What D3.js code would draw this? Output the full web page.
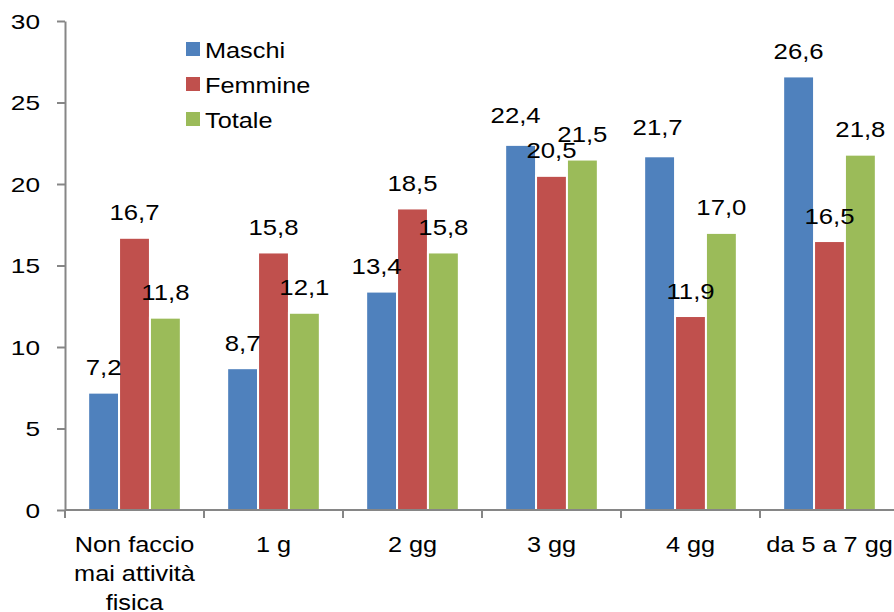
<!DOCTYPE html>
<html>
<head>
<meta charset="utf-8">
<script src="https://cdn.jsdelivr.net/npm/d3@7"></script>
<style>
  html, body { margin: 0; padding: 0; background: #fff; }
  svg { display: block; }
  text { font-family: "Liberation Sans", Arial, sans-serif; fill: #000; }
</style>
</head>
<body>
<svg id="chart" width="894" height="612"></svg>
<script>
// Categories (days of physical activity per week)
const categories = [
  ["Non faccio", "mai attività", "fisica"],
  ["1 g"],
  ["2 gg"],
  ["3 gg"],
  ["4 gg"],
  ["da 5 a 7 gg"]
];
const categoryKeys = categories.map(c => c.join(" "));

// Series
const seriesNames = ["Maschi", "Femmine", "Totale"];
const maschi  = [7.2, 8.7, 13.4, 22.4, 21.7, 26.6];
const femmine = [16.7, 15.8, 18.5, 20.5, 11.9, 16.5];
const totale  = [11.8, 12.1, 15.8, 21.5, 17.0, 21.8];
const seriesValues = [maschi, femmine, totale];
const seriesColors = ["#4F81BD", "#C0504D", "#9BBB59"];

// Y axis ticks
const yTicks = [0, 5, 10, 15, 20, 25, 30];

// Small hand nudges for a few value labels (series index, category index, dx, dy)
const labelNudges = [
  [0, 2, -5, 0],
  [0, 3, -5, -4],
  [0, 4, -2, -3.5]
];

const svg = d3.select("#chart");
const plotLeft = 65, plotTop = 21, plotBottom = 510, step = 139;
const sx = 1.15; // horizontal text stretch

const x0 = d3.scaleBand()
  .domain(categoryKeys)
  .range([plotLeft, plotLeft + step * categoryKeys.length])
  .paddingInner(0).paddingOuter(0);

const x1 = d3.scaleBand()
  .domain(seriesNames)
  .range([0, x0.bandwidth()])
  .paddingInner(0).paddingOuter(0.75);

const y = d3.scaleLinear().domain([0, 30]).range([plotBottom, plotTop]);

const itFormat = d3.formatLocale({ decimal: ",", thousands: ".", grouping: [3], currency: ["€", ""] }).format(".1f");

// Bars
const rows = [];
seriesNames.forEach((s, si) => {
  categoryKeys.forEach((c, ci) => {
    rows.push({ s, si, c, ci, v: seriesValues[si][ci] });
  });
});

svg.append("g").selectAll("rect")
  .data(rows)
  .join("rect")
  .attr("x", d => x0(d.c) + x1(d.s))
  .attr("y", d => y(d.v))
  .attr("width", x1.bandwidth())
  .attr("height", d => y(0) - y(d.v))
  .attr("fill", d => seriesColors[d.si])
  .attr("stroke", "#fff")
  .attr("stroke-width", 2);

// Axes
const axisColor = "#868686";
const yAxis = svg.append("g")
  .attr("transform", `translate(${plotLeft},0)`)
  .call(d3.axisLeft(y).tickValues(yTicks).tickSize(8).tickSizeOuter(0));
yAxis.select(".domain").attr("stroke", axisColor).attr("stroke-width", 2);
yAxis.selectAll(".tick line").attr("stroke", axisColor).attr("stroke-width", 2);
yAxis.selectAll(".tick text")
  .attr("x", null)
  .attr("dy", "0.35em")
  .attr("transform", `translate(-25,0) scale(1.25,1)`)
  .attr("text-anchor", "end")
  .style("font-size", "21px")
  .style("font-family", "'Liberation Sans', Arial, sans-serif")
  .attr("fill", "#000");

// X axis line and boundary ticks
const xEnd = x0.range()[1];
svg.append("line")
  .attr("x1", plotLeft).attr("x2", xEnd)
  .attr("y1", y(0)).attr("y2", y(0))
  .attr("stroke", axisColor).attr("stroke-width", 2);

const boundaries = categoryKeys.map(c => x0(c)).concat([xEnd]);
svg.append("g").selectAll("line")
  .data(boundaries)
  .join("line")
  .attr("x1", d => d).attr("x2", d => d)
  .attr("y1", y(0)).attr("y2", y(0) + 8)
  .attr("stroke", axisColor).attr("stroke-width", 2);

// Category labels
const catG = svg.append("g").selectAll("g")
  .data(categories)
  .join("g");
catG.each(function (lines, i) {
  const cx = x0(categoryKeys[i]) + x0.bandwidth() / 2;
  d3.select(this).selectAll("text")
    .data(lines)
    .join("text")
    .attr("transform", (d, j) => `translate(${cx},${551.5 + j * 29.3}) scale(${sx},1)`)
    .attr("text-anchor", "middle")
    .style("font-size", "22px")
    .text(d => d);
});

// Value labels
const nudge = (si, ci) => {
  const n = labelNudges.find(a => a[0] === si && a[1] === ci);
  return n ? [n[2], n[3]] : [0, 0];
};
svg.append("g").selectAll("text")
  .data(rows)
  .join("text")
  .attr("transform", d => {
    const [dx, dy] = nudge(d.si, d.ci);
    const cx = x0(d.c) + x1(d.s) + x1.bandwidth() / 2 + dx;
    return `translate(${cx},${y(d.v) - 17.5 + dy}) scale(1.17,1)`;
  })
  .attr("text-anchor", "middle")
  .style("font-size", "22px")
  .text(d => itFormat(d.v));

// Legend
const legend = svg.append("g").selectAll("g")
  .data(seriesNames)
  .join("g")
  .attr("transform", (d, i) => `translate(186,${42 + i * 35})`);
legend.append("rect")
  .attr("width", 14).attr("height", 14)
  .attr("fill", (d, i) => seriesColors[i]);
legend.append("text")
  .attr("transform", `translate(19,16) scale(${sx},1)`)
  .style("font-size", "22px")
  .text(d => d);
</script>
</body>
</html>
